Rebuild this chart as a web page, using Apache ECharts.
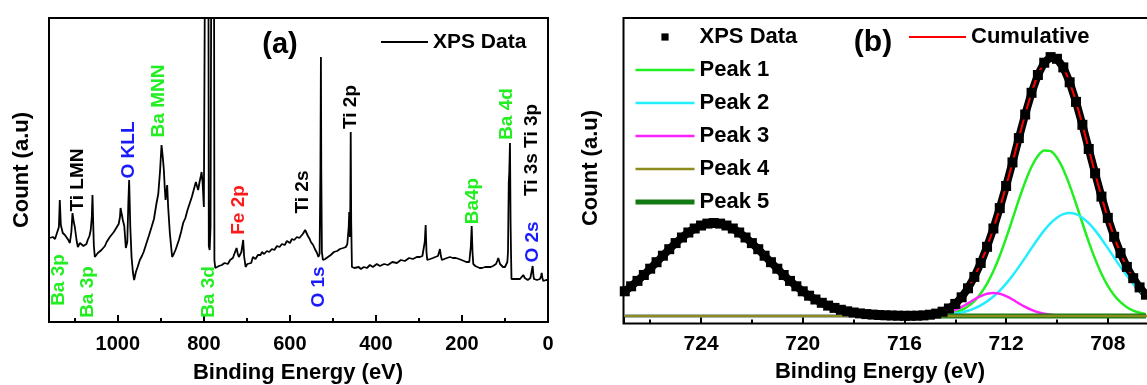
<!DOCTYPE html>
<html><head><meta charset="utf-8">
<script src="https://cdn.jsdelivr.net/npm/echarts@6/dist/echarts.min.js"></script>
<style>html,body{margin:0;padding:0;background:#fff;overflow:hidden}#c{width:1220px;height:385px}</style>
</head><body><div id="c"></div>
<script>
// ---------- Panel (a): XPS survey ----------
const aEnergy = [
1159,1151,1146,1142,1137,1134.9,1132.5,1128,1123,1119,
1115,1111.5,1108,1105.4,1102.5,1100,1096,1093,1088,1084,
1080,1077,1073,1070,1066,1063,1060.5,1058.9,1057,1055.8,
1053.5,1050,1046.5,1042,1038,1035,1030,1026,1022,1018.6,
1014,1009.3,1005,1002.3,998,995,993.7,991,988.4,985,
981.4,978,975.5,973.7,971,968.1,965,962.1,958,954,
948.8,944,940,933.3,928,921.6,916,910,906,902,
898.4,895.5,893,891,889.1,887,885.3,883,879.1,876,
873.7,870,866,863.5,858,853,848.1,843,838,832.6,
828,823,818.6,815.5,813.3,810,807,805.3,803,800,
797,789.5,788.5,786.5,784.5,782.5,776.5,775.5,773.5,772,
769.8,765,758.1,752,744.2,739,735,732.6,728,724,
721,718.6,715.5,712.8,708.6,706.5,703,699,695.3,690,
686,680,674.4,668,665.1,660,653.5,648,641.9,636,
630.2,624,618.6,612,607,600,595.3,590,583.7,578,
574.4,570,567.4,564.5,562.8,560,558.1,554,551.2,546,
541.9,537,533.7,531,530.2,529,527.9,527,525.6,523.3,
518,511.6,505,497.7,490,483.7,476,469.8,466.5,465.1,
463.3,462.1,461.3,460.5,459.5,458.6,457.5,455.8,450,446.5,
440,434.9,428,420.9,414,407,398,390.7,381,372.1,
362,351.2,342,332.6,323,314,305,297.7,292,288.4,
286.5,284.4,282.5,280.7,274,267.4,262,255.8,253.5,251.2,
249,246.5,241,234.9,228,220.9,214,207,201,195.3,
190,186,183,181.4,179.5,177.4,175.5,173.7,169,165.1,
159,153.5,146,139.5,133,127.9,124,120.9,118,115.6,
113.5,111.6,108,104.7,100,96.5,94.5,93,92,91.2,
90,88.4,87,86,84.9,80,74.4,70,65.1,61,
57.4,54,51.2,47,44.2,41,38.4,35.6,34,32.6,
29,25.6,22,18.6,16,14.7,13,10.9,7,4.7,
2,0];
const aCount = [
84,85,83,82,95,122,97,89,87,85,
82,79,90,109,100,95,82,75,79,77,
76,74,78,82,86,92,105,127,95,77,
65,67,69,68,72,74,76,80,79,85,
87,90,92,95,98,105,114,108,102,96,
74,80,120,142,95,65,50,42,50,55,
62,66,70,79,86,95,103,119,128,150,
177,165,152,135,122,130,137,115,89,75,
65,68,72,75,82,90,99,104,112,119,
125,133,140,138,132,140,146,150,140,115,
400,400,76,72,95,400,400,62,54,52,
54,56,57,59,58,62,61,64,66,74,
68,65,67,70,82,66,55,58,60,59,
65,63,67,67,70,68,71,70,73,72,
76,75,78,77,81,79,83,82,85,84,
86,88,89,92,94,90,86,83,80,77,
73,69,65,68,70,150,265,150,70,62,
63,65,67,70,71,73,74,75,78,80,
95,110,95,85,120,190,100,55,54,54,
55,53,55,54,57,55,58,56,58,57,
60,59,62,61,64,63,65,65,66,66,
80,97,70,62,63,64,65,66,68,73,
66,62,63,64,65,64,64,63,62,61,
60,58,60,62,75,96,70,58,56,55,
54,54,55,55,55,56,57,58,61,64,
61,58,56,55,55,56,60,70,110,140,
150,179,100,70,43,43,43,42,43,45,
47,44,43,42,42,44,46,56,47,43,
42,42,43,43,46,49,44,41,43,42,
41,42];
const aTickLabels = ['1000','800','600','400','200','0'];
const aPeakLabels = ['Ba 3p','Ti LMN','Ba 3p','O KLL','Ba MNN','Ba 3d','Fe 2p','Ti 2s','O 1s','Ti 2p','Ba4p','Ba 4d','Ti 3s Ti 3p','O 2s'];

// ---------- Panel (b): Fe 2p fit ----------
const bEnergy = [
727.0,726.75,726.5,726.25,726.0,725.75,725.5,725.25,725.0,724.75,
724.5,724.25,724.0,723.75,723.5,723.25,723.0,722.75,722.5,722.25,
722.0,721.75,721.5,721.25,721.0,720.75,720.5,720.25,720.0,719.75,
719.5,719.25,719.0,718.75,718.5,718.25,718.0,717.75,717.5,717.25,
717.0,716.75,716.5,716.25,716.0,715.75,715.5,715.25,715.0,714.75,
714.5,714.25,714.0,713.75,713.5,713.25,713.0,712.75,712.5,712.25,
712.0,711.75,711.5,711.25,711.0,710.75,710.5,710.25,710.0,709.75,
709.5,709.25,709.0,708.75,708.5,708.25,708.0,707.75,707.5,707.25,
707.0,706.75,706.5];
const bData = [
32.2,37.2,42.6,48.5,54.8,61.3,67.8,74.3,80.4,86.0,
91.0,95.0,98.0,99.9,100.5,99.9,98.0,95.0,91.0,86.0,
80.4,74.3,67.8,61.3,54.8,48.5,42.6,37.2,32.2,27.8,
24.0,20.7,17.9,15.6,13.7,12.2,11.0,10.1,9.4,8.9,
8.5,8.2,8.0,7.8,7.7,7.7,7.8,8.1,8.8,9.9,
11.8,15.0,19.6,26.2,35.2,46.6,60.5,76.7,95.0,115.4,
137.5,161.1,185.4,209.0,230.7,248.5,260.8,266.4,264.7,256.1,
241.2,221.6,198.7,174.5,150.2,126.9,105.6,86.7,70.4,56.6,
45.3,36.1,28.8];
const bCumulative = [
32.2,37.2,42.6,48.5,54.8,61.3,67.8,74.3,80.4,86.0,
91.0,95.0,98.0,99.9,100.5,99.9,98.0,95.0,91.0,86.0,
80.4,74.3,67.8,61.3,54.8,48.5,42.6,37.2,32.2,27.8,
24.0,20.7,17.9,15.6,13.7,12.2,11.0,10.1,9.4,8.9,
8.5,8.2,8.0,7.8,7.7,7.7,7.8,8.1,8.8,9.9,
11.8,15.0,19.6,26.2,35.2,46.6,60.5,76.7,95.0,115.4,
137.5,161.1,185.4,209.0,230.7,248.5,260.8,266.4,264.7,256.1,
241.2,221.6,198.7,174.5,150.2,126.9,105.6,86.7,70.4,56.6,
45.3,36.1,28.8];
const bPeak1 = [
7.5,7.5,7.5,7.5,7.5,7.5,7.5,7.5,7.5,7.5,
7.5,7.5,7.5,7.5,7.5,7.5,7.5,7.5,7.5,7.5,
7.5,7.5,7.5,7.5,7.5,7.5,7.5,7.5,7.5,7.5,
7.5,7.5,7.5,7.5,7.5,7.5,7.5,7.5,7.5,7.5,
7.5,7.5,7.5,7.5,7.5,7.5,7.5,7.6,7.8,8.1,
8.6,9.6,11.1,13.5,17.2,22.5,30.0,39.9,52.5,67.8,
85.3,104.3,123.6,141.5,156.7,167.6,173.0,172.4,165.8,154.0,
138.1,119.8,100.4,81.7,64.6,49.8,37.7,28.3,21.3,16.3,
12.9,10.7,9.3];
const bPeak2 = [
7.5,7.5,7.5,7.5,7.5,7.5,7.5,7.5,7.5,7.5,
7.5,7.5,7.5,7.5,7.5,7.5,7.5,7.5,7.5,7.5,
7.5,7.5,7.5,7.5,7.5,7.5,7.5,7.5,7.5,7.5,
7.5,7.5,7.5,7.5,7.5,7.5,7.5,7.5,7.5,7.5,
7.5,7.5,7.5,7.5,7.5,7.5,7.6,7.7,7.9,8.1,
8.5,9.1,9.9,11.1,12.8,15.1,18.2,22.1,27.0,32.9,
39.9,47.8,56.6,65.9,75.4,84.6,93.1,100.3,105.8,109.3,
110.5,109.3,105.8,100.3,93.1,84.6,75.4,65.9,56.6,47.8,
39.9,32.9,27.0];
const bPeak3 = [
7.5,7.5,7.5,7.5,7.5,7.5,7.5,7.5,7.5,7.5,
7.5,7.5,7.5,7.5,7.5,7.5,7.5,7.5,7.5,7.5,
7.5,7.5,7.5,7.5,7.5,7.5,7.5,7.5,7.5,7.5,
7.5,7.5,7.5,7.5,7.5,7.5,7.5,7.5,7.5,7.5,
7.5,7.5,7.5,7.5,7.5,7.5,7.6,7.8,8.1,8.7,
9.7,11.3,13.6,16.6,20.2,24.0,27.3,29.7,30.5,29.7,
27.3,24.0,20.2,16.6,13.6,11.3,9.7,8.7,8.1,7.8,
7.6,7.5,7.5,7.5,7.5,7.5,7.5,7.5,7.5,7.5,
7.5,7.5,7.5];
const bPeak5 = [
32.2,37.2,42.6,48.5,54.8,61.3,67.8,74.3,80.4,86.0,
91.0,95.0,98.0,99.9,100.5,99.9,98.0,95.0,91.0,86.0,
80.4,74.3,67.8,61.3,54.8,48.5,42.6,37.2,32.2,27.8,
24.0,20.7,17.9,15.6,13.7,12.2,11.0,10.1,9.4,8.9,
8.5,8.2,8.0,7.8,7.7,7.6,7.6,7.5,7.5,7.5,
7.5,7.5,7.5,7.5,7.5,7.5,7.5,7.5,7.5,7.5,
7.5,7.5,7.5,7.5,7.5,7.5,7.5,7.5,7.5,7.5,
7.5,7.5,7.5,7.5,7.5,7.5,7.5,7.5,7.5,7.5,
7.5,7.5,7.5];
const peak4Energy = [727.0, 706.4];
const bPeak4 = [7.5, 7.5];
const bTickLabels = ['724','720','716','712','708'];

// ---------- helpers ----------
const FONT = '"Liberation Sans", Arial, sans-serif';
const pairs = (xs, ys) => xs.map((x, i) => [x, ys[i]]);
const G = '#22ee22', K = '#000000', B = '#1a1aff', R = '#ff1a1a';
const C1 = '#22ee22', C2 = '#22eeff', C3 = '#ff22ff', C4 = '#8c8c1e', C5 = '#137a13', CR = '#ff0000';
const annot = [
  [0, 59, 280, G], [1, 77.5, 180, K], [2, 88, 292, G], [3, 128.5, 150, B],
  [4, 159, 101, G], [5, 209, 292, G], [6, 239, 210, R], [7, 303, 192, K],
  [8, 319, 287, B], [9, 351, 107, K], [10, 473, 201, G], [11, 507, 114, G],
  [12, 532, 150, K], [13, 533, 242, B]
];
function txt(text, x, y, size, color, rot) {
  return { type: 'text', x: x, y: y, rotation: rot || 0, z: 100,
    style: { text: text, fill: color, font: 'bold ' + size + 'px ' + FONT,
      textAlign: 'center', textVerticalAlign: 'middle' } };
}
const graphics = annot.map(a => txt(aPeakLabels[a[0]], a[1], a[2], 19, a[3], Math.PI / 2));
graphics.push(txt('Count (a.u)', 22, 170, 22, K, Math.PI / 2));
graphics.push(txt('Count (a.u)', 591, 168, 22, K, Math.PI / 2));
graphics.push(txt('Binding Energy (eV)', 298, 373, 22, K, 0));
graphics.push(txt('Binding Energy (eV)', 880, 372, 22, K, 0));
graphics.push(txt('(a)', 280, 45, 29, K, 0));
graphics.push(txt('(b)', 873, 43, 30, K, 0));

const tickStyle = { color: '#000', width: 2 };
function mainX(grid, min, max, interval, labels, fs, margin) {
  return { type: 'value', gridIndex: grid, inverse: true, min: min, max: max, interval: interval,
    axisLine: { show: false }, splitLine: { show: false },
    axisTick: { show: true, inside: true, length: 7, lineStyle: tickStyle },
    axisLabel: { show: true, color: '#000', fontSize: fs, fontWeight: 'bold', fontFamily: FONT, margin: margin,
      formatter: v => labels.includes(String(v)) ? String(v) : '' } };
}
function minorX(grid, min, max, interval) {
  return { type: 'value', gridIndex: grid, inverse: true, min: min, max: max, interval: interval,
    position: 'bottom', axisLine: { show: false }, splitLine: { show: false }, axisLabel: { show: false },
    axisTick: { show: true, inside: true, length: 4, lineStyle: tickStyle } };
}
const legendText = { color: '#000', fontSize: 22, fontWeight: 'bold', fontFamily: FONT, lineHeight: 24 };
const noSym = { opacity: 0 };
const lgLine = (name, color, w) => ({ name: name, itemStyle: noSym, lineStyle: { color: color, width: w, opacity: 1 } });

const option = {
  animation: false,
  backgroundColor: '#fff',
  grid: [
    { left: 49, top: 18, width: 499, height: 304, show: true, borderColor: '#000', borderWidth: 2 },
    { left: 623.5, top: 18, width: 586, height: 305.5, show: true, borderColor: '#000', borderWidth: 2 }
  ],
  xAxis: [
    mainX(0, 0, 1160, 200, aTickLabels, 20, 12),
    minorX(0, 0, 1160, 100),
    mainX(1, 704, 727.05, 4, bTickLabels, 21, 10),
    minorX(1, 704, 727.05, 2)
  ],
  yAxis: [
    { type: 'value', gridIndex: 0, min: 0, max: 304, show: false },
    { type: 'value', gridIndex: 1, min: 0, max: 305.5, show: false }
  ],
  legend: [
    { left: 380, top: 30, padding: 0, itemWidth: 47, itemHeight: 12, selectedMode: false,
      data: [lgLine('XPS Data', '#000', 2)],
      textStyle: Object.assign({}, legendText, { fontSize: 21 }) },
    { orient: 'vertical', left: 633, top: 25, padding: 0, itemWidth: 59, itemHeight: 9, itemGap: 9, selectedMode: false,
      data: [{ name: 'XPS Data ', lineStyle: { opacity: 0 } },
        lgLine('Peak 1', C1, 2.5), lgLine('Peak 2', C2, 2.5), lgLine('Peak 3', C3, 2.5),
        lgLine('Peak 4', C4, 2.5), lgLine('Peak 5', C5, 5)],
      textStyle: legendText },
    { left: 908, top: 25, padding: 0, itemWidth: 57, itemHeight: 9, selectedMode: false,
      data: [lgLine('Cumulative', CR, 2)],
      textStyle: legendText }
  ],
  graphic: graphics,
  series: [
    { name: 'XPS Data', type: 'line', xAxisIndex: 0, yAxisIndex: 0, symbol: 'none',
      lineStyle: { color: '#000', width: 1.8 }, itemStyle: { color: '#000' }, data: pairs(aEnergy, aCount) },
    { name: 'XPS Data ', type: 'line', xAxisIndex: 2, yAxisIndex: 1, symbol: 'rect', symbolSize: 10,
      itemStyle: { color: '#000' }, lineStyle: { color: '#000', width: 8 }, data: pairs(bEnergy, bData) },
    { name: 'Peak 1', type: 'line', xAxisIndex: 2, yAxisIndex: 1, symbol: 'none', smooth: 0.3,
      lineStyle: { color: C1, width: 2.5 }, itemStyle: { color: C1 }, data: pairs(bEnergy, bPeak1) },
    { name: 'Peak 2', type: 'line', xAxisIndex: 2, yAxisIndex: 1, symbol: 'none', smooth: 0.3,
      lineStyle: { color: C2, width: 2.5 }, itemStyle: { color: C2 }, data: pairs(bEnergy, bPeak2) },
    { name: 'Peak 3', type: 'line', xAxisIndex: 2, yAxisIndex: 1, symbol: 'none', smooth: 0.3,
      lineStyle: { color: C3, width: 2.5 }, itemStyle: { color: C3 }, data: pairs(bEnergy, bPeak3) },
    { name: 'Peak 5', type: 'line', xAxisIndex: 2, yAxisIndex: 1, symbol: 'none', smooth: 0.3,
      lineStyle: { color: C5, width: 5 }, itemStyle: { color: C5 }, data: pairs(bEnergy, bPeak5) },
    { name: 'Peak 4', type: 'line', xAxisIndex: 2, yAxisIndex: 1, symbol: 'none',
      lineStyle: { color: C4, width: 2.5 }, itemStyle: { color: C4 }, data: pairs(peak4Energy, bPeak4) },
    { name: 'Cumulative', type: 'line', xAxisIndex: 2, yAxisIndex: 1, symbol: 'none', smooth: 0.3,
      lineStyle: { color: CR, width: 2 }, itemStyle: { color: CR }, data: pairs(bEnergy, bCumulative) }
  ]
};
const chart = echarts.init(document.getElementById('c'), null, { renderer: 'canvas' });
chart.setOption(option);
</script>
</body></html>
